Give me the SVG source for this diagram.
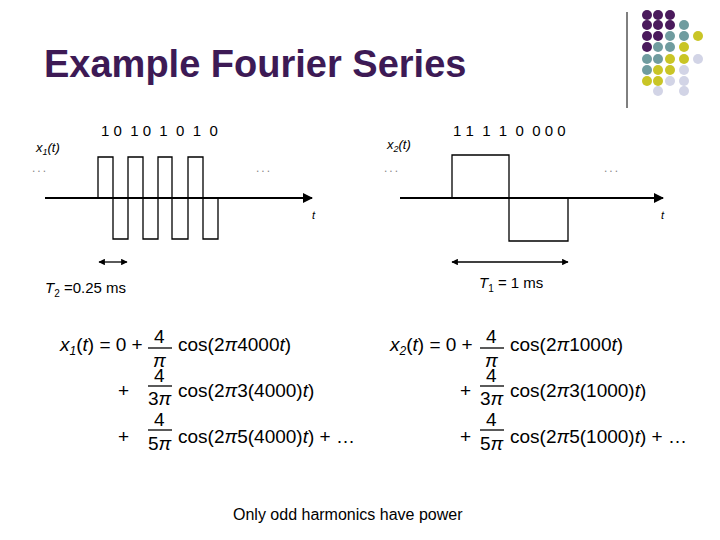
<svg xmlns="http://www.w3.org/2000/svg" width="720" height="540" viewBox="0 0 720 540">
<style>
text{font-family:"Liberation Sans",Arial,sans-serif;fill:#000}
.w{fill:none;stroke:#000;stroke-width:1.3}
.ax{stroke:#000;stroke-width:2}
.f{font-size:19px}
.s{font-size:13px}
.d{font-size:12px;letter-spacing:2px;fill:#888}
.P{fill:#4A1A5C}.T{fill:#6F9C9F}.Y{fill:#C9C526}.L{fill:#D2D4E6}
</style>
<defs>
<marker id="a" viewBox="0 0 10 10" refX="9" refY="5" markerWidth="5" markerHeight="5" orient="auto-start-reverse"><path d="M0,0 L10,5 L0,10 z" fill="#000"/></marker>
</defs>
<rect width="720" height="540" fill="#fff"/>
<g id="deco">
<line x1="627" y1="12" x2="627" y2="108" stroke="#000" stroke-width="1"/>
<g>
<circle class="P" cx="647" cy="15" r="5"/><circle class="P" cx="658" cy="15" r="5"/><circle class="P" cx="670" cy="15" r="5"/>
<circle class="P" cx="647" cy="25" r="5"/><circle class="P" cx="658" cy="25" r="5"/><circle class="P" cx="670" cy="25" r="5"/><circle class="T" cx="684" cy="25" r="5"/>
<circle class="P" cx="647" cy="36" r="5"/><circle class="P" cx="658" cy="36" r="5"/><circle class="T" cx="670" cy="36" r="5"/><circle class="T" cx="684" cy="36" r="5"/><circle class="Y" cx="698" cy="36" r="5"/>
<circle class="P" cx="647" cy="47" r="5"/><circle class="T" cx="658" cy="47" r="5"/><circle class="T" cx="670" cy="47" r="5"/><circle class="Y" cx="684" cy="47" r="5"/>
<circle class="T" cx="647" cy="59" r="5"/><circle class="T" cx="658" cy="59" r="5"/><circle class="Y" cx="670" cy="59" r="5"/><circle class="Y" cx="684" cy="59" r="5"/><circle class="L" cx="698" cy="59" r="5"/>
<circle class="T" cx="647" cy="70" r="5"/><circle class="Y" cx="658" cy="70" r="5"/><circle class="Y" cx="670" cy="70" r="5"/><circle class="L" cx="684" cy="70" r="5"/>
<circle class="Y" cx="647" cy="81" r="5"/><circle class="Y" cx="658" cy="81" r="5"/><circle class="L" cx="670" cy="81" r="5"/><circle class="L" cx="684" cy="81" r="5"/>
<circle class="L" cx="658" cy="91" r="5"/><circle class="L" cx="684" cy="91" r="5"/>
</g>
</g>
<text id="title" x="44" y="77" font-size="38" font-weight="bold" style="fill:#3D1A55">Example Fourier Series</text>

<g id="wave1">
<text x="36" y="152" class="s" font-style="italic">x<tspan font-size="9" dy="3">1</tspan><tspan dy="-3">(t)</tspan></text>
<text x="101" y="136" font-size="15" xml:space="preserve">1 0  1 0  1  0  1  0</text>
<text x="32" y="172" class="d">...</text>
<text x="256" y="172" class="d">...</text>
<path class="w" d="M98,198 V157 H113 V239 H128 V157 H143 V239 H158 V157 H172 V239 H188 V157 H203 V239 H218 V198"/>
<line class="ax" x1="45" y1="198" x2="312" y2="198" marker-end="url(#a)"/>
<text x="312" y="219" font-size="11" font-style="italic">t</text>
<text x="45" y="293" font-size="15"><tspan font-style="italic">T</tspan><tspan font-size="10" dy="4">2</tspan><tspan dy="-4"> =0.25 ms</tspan></text>
</g>

<g id="wave2">
<text x="387" y="149" class="s" font-style="italic">x<tspan font-size="9" dy="3">2</tspan><tspan dy="-3">(t)</tspan></text>
<text x="453" y="136" font-size="15" xml:space="preserve">1 1  1  1  0  0 0 0</text>
<text x="384" y="172" class="d">...</text>
<text x="604" y="172" class="d">...</text>
<path class="w" d="M452,198 V155 H509 V241 H568 V198"/>
<line class="ax" x1="400" y1="198" x2="663" y2="198" marker-end="url(#a)"/>
<text x="661" y="219" font-size="11" font-style="italic">t</text>
<text x="479" y="288" font-size="15"><tspan font-style="italic">T</tspan><tspan font-size="10" dy="4">1</tspan><tspan dy="-4"> = 1 ms</tspan></text>
</g>

<g id="connectors">
<line x1="99" y1="262" x2="127" y2="262" stroke="#000" stroke-width="1.3" marker-start="url(#a)" marker-end="url(#a)"/>
<line x1="452" y1="262" x2="568" y2="262" stroke="#000" stroke-width="1.3" marker-start="url(#a)" marker-end="url(#a)"/>
</g>

<g id="formula1" class="f">
<text x="60" y="351" class="f"><tspan font-style="italic">x</tspan><tspan font-size="12" font-style="italic" dy="4">1</tspan><tspan dy="-4">(</tspan><tspan font-style="italic">t</tspan>) = 0 +</text>
<text x="154" y="343" class="f">4</text><line x1="148" y1="348" x2="172" y2="348" stroke="#000" stroke-width="1.3"/><text x="153" y="367" class="f" font-style="italic">π</text>
<text x="178" y="351" class="f">cos(2<tspan font-style="italic">π</tspan>4000<tspan font-style="italic">t</tspan>)</text>
<text x="118" y="397" class="f">+</text>
<text x="154" y="382" class="f">4</text><line x1="148" y1="386" x2="172" y2="386" stroke="#000" stroke-width="1.3"/><text x="148" y="405" class="f">3<tspan font-style="italic">π</tspan></text>
<text x="178" y="397" class="f">cos(2<tspan font-style="italic">π</tspan>3(4000)<tspan font-style="italic">t</tspan>)</text>
<text x="118" y="443" class="f">+</text>
<text x="154" y="426" class="f">4</text><line x1="148" y1="430" x2="172" y2="430" stroke="#000" stroke-width="1.3"/><text x="148" y="450" class="f">5<tspan font-style="italic">π</tspan></text>
<text x="178" y="443" class="f">cos(2<tspan font-style="italic">π</tspan>5(4000)<tspan font-style="italic">t</tspan>) + …</text>
</g>

<g id="formula2" class="f">
<text x="390" y="351" class="f"><tspan font-style="italic">x</tspan><tspan font-size="12" font-style="italic" dy="4">2</tspan><tspan dy="-4">(</tspan><tspan font-style="italic">t</tspan>) = 0 +</text>
<text x="486" y="343" class="f">4</text><line x1="480" y1="348" x2="504" y2="348" stroke="#000" stroke-width="1.3"/><text x="485" y="367" class="f" font-style="italic">π</text>
<text x="510" y="351" class="f">cos(2<tspan font-style="italic">π</tspan>1000<tspan font-style="italic">t</tspan>)</text>
<text x="460" y="397" class="f">+</text>
<text x="486" y="382" class="f">4</text><line x1="480" y1="386" x2="504" y2="386" stroke="#000" stroke-width="1.3"/><text x="480" y="405" class="f">3<tspan font-style="italic">π</tspan></text>
<text x="510" y="397" class="f">cos(2<tspan font-style="italic">π</tspan>3(1000)<tspan font-style="italic">t</tspan>)</text>
<text x="460" y="443" class="f">+</text>
<text x="486" y="426" class="f">4</text><line x1="480" y1="430" x2="504" y2="430" stroke="#000" stroke-width="1.3"/><text x="480" y="450" class="f">5<tspan font-style="italic">π</tspan></text>
<text x="510" y="443" class="f">cos(2<tspan font-style="italic">π</tspan>5(1000)<tspan font-style="italic">t</tspan>) + …</text>
</g>

<text id="note" x="233" y="520" font-size="16">Only odd harmonics have power</text>
</svg>
